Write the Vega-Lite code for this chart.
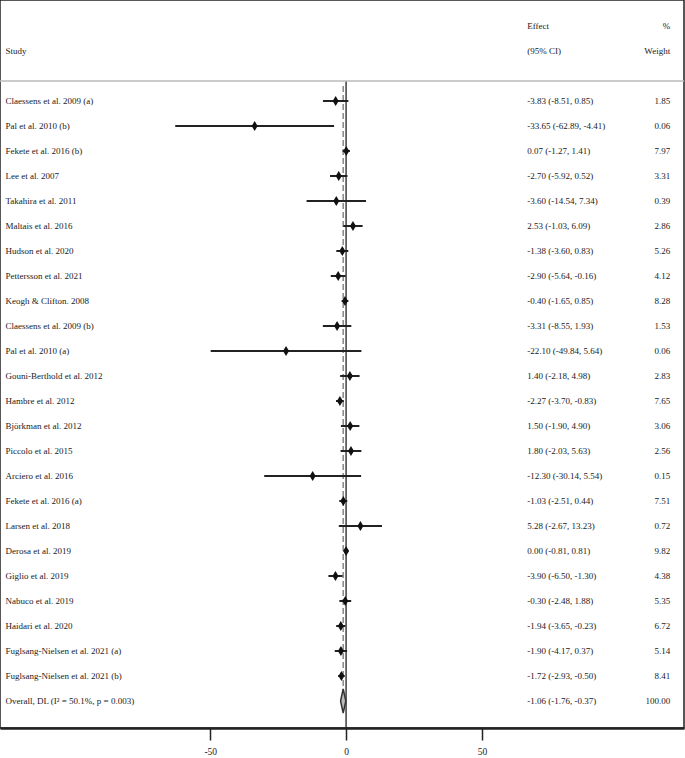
{
  "$schema": "https://vega.github.io/schema/vega-lite/v6.json",
  "width": 684,
  "height": 728,
  "padding": {"left": 0, "top": 0, "right": 1, "bottom": 30},
  "autosize": "none",
  "background": "white",
  "config": {
    "view": {"stroke": "#222", "strokeWidth": 1.5},
    "text": {"font": "Liberation Serif", "fontSize": 9, "color": "#1a1a1a", "baseline": "middle"}
  },
  "datasets": {
    "rows": [
      {"row": 1, "kind": "study", "study": "Claessens et al. 2009 (a)", "es": -3.83, "lo": -8.51, "hi": 0.85, "effect": "-3.83 (-8.51, 0.85)", "weight": "1.85"},
      {"row": 2, "kind": "study", "study": "Pal et al. 2010 (b)", "es": -33.65, "lo": -62.89, "hi": -4.41, "effect": "-33.65 (-62.89, -4.41)", "weight": "0.06"},
      {"row": 3, "kind": "study", "study": "Fekete et al. 2016 (b)", "es": 0.07, "lo": -1.27, "hi": 1.41, "effect": "0.07 (-1.27, 1.41)", "weight": "7.97"},
      {"row": 4, "kind": "study", "study": "Lee et al. 2007", "es": -2.70, "lo": -5.92, "hi": 0.52, "effect": "-2.70 (-5.92, 0.52)", "weight": "3.31"},
      {"row": 5, "kind": "study", "study": "Takahira et al. 2011", "es": -3.60, "lo": -14.54, "hi": 7.34, "effect": "-3.60 (-14.54, 7.34)", "weight": "0.39"},
      {"row": 6, "kind": "study", "study": "Maltais et al. 2016", "es": 2.53, "lo": -1.03, "hi": 6.09, "effect": "2.53 (-1.03, 6.09)", "weight": "2.86"},
      {"row": 7, "kind": "study", "study": "Hudson et al. 2020", "es": -1.38, "lo": -3.60, "hi": 0.83, "effect": "-1.38 (-3.60, 0.83)", "weight": "5.26"},
      {"row": 8, "kind": "study", "study": "Pettersson et al. 2021", "es": -2.90, "lo": -5.64, "hi": -0.16, "effect": "-2.90 (-5.64, -0.16)", "weight": "4.12"},
      {"row": 9, "kind": "study", "study": "Keogh & Clifton. 2008", "es": -0.40, "lo": -1.65, "hi": 0.85, "effect": "-0.40 (-1.65, 0.85)", "weight": "8.28"},
      {"row": 10, "kind": "study", "study": "Claessens et al. 2009 (b)", "es": -3.31, "lo": -8.55, "hi": 1.93, "effect": "-3.31 (-8.55, 1.93)", "weight": "1.53"},
      {"row": 11, "kind": "study", "study": "Pal et al. 2010 (a)", "es": -22.10, "lo": -49.84, "hi": 5.64, "effect": "-22.10 (-49.84, 5.64)", "weight": "0.06"},
      {"row": 12, "kind": "study", "study": "Gouni-Berthold et al. 2012", "es": 1.40, "lo": -2.18, "hi": 4.98, "effect": "1.40 (-2.18, 4.98)", "weight": "2.83"},
      {"row": 13, "kind": "study", "study": "Hambre et al. 2012", "es": -2.27, "lo": -3.70, "hi": -0.83, "effect": "-2.27 (-3.70, -0.83)", "weight": "7.65"},
      {"row": 14, "kind": "study", "study": "Björkman et al. 2012", "es": 1.50, "lo": -1.90, "hi": 4.90, "effect": "1.50 (-1.90, 4.90)", "weight": "3.06"},
      {"row": 15, "kind": "study", "study": "Piccolo et al. 2015", "es": 1.80, "lo": -2.03, "hi": 5.63, "effect": "1.80 (-2.03, 5.63)", "weight": "2.56"},
      {"row": 16, "kind": "study", "study": "Arciero et al. 2016", "es": -12.30, "lo": -30.14, "hi": 5.54, "effect": "-12.30 (-30.14, 5.54)", "weight": "0.15"},
      {"row": 17, "kind": "study", "study": "Fekete et al. 2016 (a)", "es": -1.03, "lo": -2.51, "hi": 0.44, "effect": "-1.03 (-2.51, 0.44)", "weight": "7.51"},
      {"row": 18, "kind": "study", "study": "Larsen et al. 2018", "es": 5.28, "lo": -2.67, "hi": 13.23, "effect": "5.28 (-2.67, 13.23)", "weight": "0.72"},
      {"row": 19, "kind": "study", "study": "Derosa et al. 2019", "es": 0.00, "lo": -0.81, "hi": 0.81, "effect": "0.00 (-0.81, 0.81)", "weight": "9.82"},
      {"row": 20, "kind": "study", "study": "Giglio et al. 2019", "es": -3.90, "lo": -6.50, "hi": -1.30, "effect": "-3.90 (-6.50, -1.30)", "weight": "4.38"},
      {"row": 21, "kind": "study", "study": "Nabuco et al. 2019", "es": -0.30, "lo": -2.48, "hi": 1.88, "effect": "-0.30 (-2.48, 1.88)", "weight": "5.35"},
      {"row": 22, "kind": "study", "study": "Haidari et al. 2020", "es": -1.94, "lo": -3.65, "hi": -0.23, "effect": "-1.94 (-3.65, -0.23)", "weight": "6.72"},
      {"row": 23, "kind": "study", "study": "Fuglsang-Nielsen et al. 2021 (a)", "es": -1.90, "lo": -4.17, "hi": 0.37, "effect": "-1.90 (-4.17, 0.37)", "weight": "5.14"},
      {"row": 24, "kind": "study", "study": "Fuglsang-Nielsen et al. 2021 (b)", "es": -1.72, "lo": -2.93, "hi": -0.50, "effect": "-1.72 (-2.93, -0.50)", "weight": "8.41"},
      {"row": 25, "kind": "overall", "study": "Overall, DL (I² = 50.1%, p = 0.003)", "es": -1.06, "lo": -1.76, "hi": -0.37, "effect": "-1.06 (-1.76, -0.37)", "weight": "100.00"}
    ],
    "header": [
      {"row": -2, "study": "", "effect": "Effect", "weight": "%"},
      {"row": -1, "study": "Study", "effect": "(95% CI)", "weight": "Weight"}
    ],
    "refs": [
      {"null_effect": 0, "pooled": -1.06}
    ]
  },
  "layer": [
    {
      "data": {"name": "rows"},
      "mark": {"type": "text", "align": "left"},
      "encoding": {
        "x": {"datum": -125.4, "type": "quantitative", "scale": {"domain": [-127.4, 124.4], "nice": false, "zero": false}, "axis": {"values": [-50, 0, 50], "grid": false, "title": null, "tickSize": 12, "tickWidth": 1.5, "tickColor": "#222", "domainColor": "#222", "domainWidth": 2.5, "labelFont": "Liberation Serif", "labelFontSize": 9.5, "labelColor": "#222", "labelPadding": 6, "labelFlush": false, "labelExpr": "replace(datum.label, '\u2212', '-')"}},
        "y": {"field": "row", "type": "quantitative", "scale": {"domain": [-3.04, 26.08], "reverse": true, "nice": false, "zero": false}, "axis": null},
        "text": {"field": "study"}
      }
    },
    {
      "data": {"name": "refs"},
      "mark": {"type": "rule", "color": "#888", "strokeWidth": 1.5, "strokeDash": [6, 3]},
      "encoding": {
        "x": {"field": "pooled", "type": "quantitative"},
        "y": {"datum": 0.4, "type": "quantitative"},
        "y2": {"datum": 24.6}
      }
    },
    {
      "data": {"name": "refs"},
      "mark": {"type": "rule", "color": "#222", "strokeWidth": 1.3},
      "encoding": {
        "x": {"field": "null_effect", "type": "quantitative"},
        "y": {"datum": 0.2, "type": "quantitative"},
        "y2": {"datum": 26.08}
      }
    },
    {
      "data": {"name": "refs"},
      "mark": {"type": "rule", "color": "#bbb", "strokeWidth": 1.5},
      "encoding": {
        "y": {"datum": 0.2, "type": "quantitative"}
      }
    },
    {
      "data": {"name": "rows"},
      "transform": [{"filter": "datum.kind === 'study'"}],
      "mark": {"type": "rule", "color": "#222", "strokeWidth": 2},
      "encoding": {
        "x": {"field": "lo", "type": "quantitative"},
        "x2": {"field": "hi"},
        "y": {"field": "row", "type": "quantitative"}
      }
    },
    {
      "data": {"name": "rows"},
      "transform": [{"filter": "datum.kind === 'study'"}],
      "mark": {"type": "point", "shape": "M0,-1L0.6,0L0,1L-0.6,0Z", "filled": true, "color": "#111", "size": 100, "opacity": 1},
      "encoding": {
        "x": {"field": "es", "type": "quantitative"},
        "y": {"field": "row", "type": "quantitative"}
      }
    },
    {
      "data": {"name": "rows"},
      "transform": [{"filter": "datum.kind === 'overall'"}],
      "mark": {"type": "point", "shape": "M0,-1L0.22,0L0,1L-0.22,0Z", "filled": true, "fill": "#bbb", "stroke": "#333", "strokeWidth": 1.5, "size": 576, "opacity": 1},
      "encoding": {
        "x": {"field": "es", "type": "quantitative"},
        "y": {"field": "row", "type": "quantitative"}
      }
    },
    {
      "data": {"name": "rows"},
      "mark": {"type": "text", "align": "left"},
      "encoding": {
        "x": {"datum": 66.7, "type": "quantitative"},
        "y": {"field": "row", "type": "quantitative"},
        "text": {"field": "effect"}
      }
    },
    {
      "data": {"name": "rows"},
      "mark": {"type": "text", "align": "right"},
      "encoding": {
        "x": {"datum": 119.3, "type": "quantitative"},
        "y": {"field": "row", "type": "quantitative"},
        "text": {"field": "weight"}
      }
    },
    {
      "data": {"name": "header"},
      "mark": {"type": "text", "align": "left"},
      "encoding": {
        "x": {"datum": -125.4, "type": "quantitative"},
        "y": {"field": "row", "type": "quantitative"},
        "text": {"field": "study"}
      }
    },
    {
      "data": {"name": "header"},
      "mark": {"type": "text", "align": "left"},
      "encoding": {
        "x": {"datum": 66.7, "type": "quantitative"},
        "y": {"field": "row", "type": "quantitative"},
        "text": {"field": "effect"}
      }
    },
    {
      "data": {"name": "header"},
      "mark": {"type": "text", "align": "right"},
      "encoding": {
        "x": {"datum": 119.3, "type": "quantitative"},
        "y": {"field": "row", "type": "quantitative"},
        "text": {"field": "weight"}
      }
    }
  ]
}
